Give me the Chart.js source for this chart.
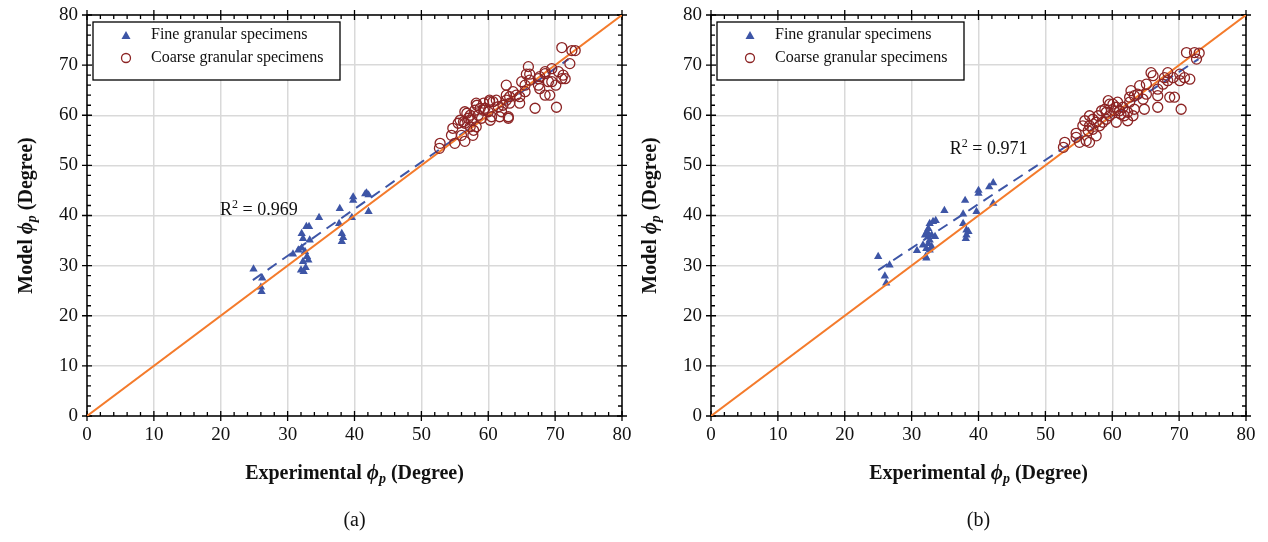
<!DOCTYPE html>
<html>
<head>
<meta charset="utf-8">
<script src="https://cdn.jsdelivr.net/npm/chart.js@4.4.1/dist/chart.umd.min.js"></script>
<style>
  body { margin: 0; background: #fff; }
  #wrap { position: relative; width: 1268px; height: 542px; overflow: hidden; }
  canvas { position: absolute; top: 0; }
</style>
</head>
<body>
<div id="wrap">
  <canvas id="chartA" width="634" height="542" style="left:0px"></canvas>
  <canvas id="chartB" width="634" height="542" style="left:624px"></canvas>
</div>
<script>
// axis ticks (both axes, both panels)
const axisTicks = [0, 10, 20, 30, 40, 50, 60, 70, 80];

// panel (a) - fine granular
const fineAx = [24.9, 26.2, 26.0, 26.1, 30.8, 32.0, 32.4, 32.7, 32.1, 32.3, 33.3, 32.8, 33.2, 31.6, 32.1, 32.6, 32.9, 33.1, 32.3, 34.7, 37.8, 37.7, 38.1, 38.3, 38.1, 39.8, 39.8, 39.6, 41.8, 42.1, 41.6, 42.1];
const fineAy = [29.3, 27.5, 25.7, 24.8, 32.3, 29.1, 28.8, 29.6, 36.4, 35.4, 35.1, 37.8, 37.8, 33.1, 33.5, 32.8, 31.8, 31.1, 30.8, 39.6, 41.4, 38.4, 36.4, 35.6, 34.8, 43.7, 43.0, 39.6, 44.5, 44.1, 44.3, 40.8];

// panel (a) - coarse granular
const coarseAx = [52.8, 52.7, 54.7, 54.5, 55.0, 56.0, 56.5, 56.5, 55.8, 56.3, 57.0, 57.5, 57.7, 57.8, 57.3, 58.2, 58.0, 58.8, 59.3, 59.5, 60.2, 60.7, 60.0, 60.3, 59.0, 58.5, 61.7, 62.0, 63.0, 62.2, 62.7, 63.2, 62.7, 63.7, 64.7, 64.7, 65.5, 65.5, 66.0, 65.7, 67.0, 66.2, 67.5, 67.5, 67.7, 68.5, 68.5, 69.2, 69.5, 69.5, 70.1, 70.2, 70.5, 71.0, 71.5, 71.0, 72.2, 72.5, 73.0, 71.2, 56.8, 57.3, 58.3, 59.3, 60.2, 61.2, 61.5, 62.7, 64.2, 65.0, 66.2, 67.7, 68.5, 69.0, 55.5, 56.5, 58.2, 60.5, 63.0, 63.2];
const coarseAy = [54.4, 53.4, 57.4, 56.0, 54.4, 56.0, 54.8, 60.7, 59.0, 58.7, 59.4, 59.0, 56.0, 57.0, 57.7, 62.4, 61.0, 61.4, 62.4, 61.4, 62.7, 62.7, 60.7, 59.0, 59.4, 60.0, 59.7, 60.7, 59.7, 62.0, 64.0, 62.4, 66.0, 64.7, 62.4, 63.7, 66.0, 64.7, 69.7, 68.2, 61.4, 68.2, 67.3, 66.0, 65.3, 68.3, 64.0, 64.0, 66.7, 69.3, 66.0, 61.6, 68.7, 67.3, 67.3, 73.5, 70.3, 72.9, 72.9, 68.0, 60.4, 60.0, 62.0, 61.0, 63.0, 63.0, 61.7, 63.0, 64.0, 66.7, 67.0, 67.7, 68.7, 66.7, 58.4, 58.4, 57.7, 59.7, 59.4, 63.7];

// panel (b) - fine granular
const fineBx = [25.0, 26.7, 26.0, 26.2, 30.8, 32.1, 32.2, 32.2, 32.7, 33.0, 31.7, 32.5, 32.0, 32.5, 33.0, 33.5, 32.7, 32.5, 32.7, 33.2, 33.6, 32.3, 34.9, 38.0, 37.7, 37.7, 38.2, 38.5, 38.2, 38.1, 39.7, 40.0, 40.0, 41.6, 42.2, 42.2];
const fineBy = [31.8, 30.1, 27.9, 26.5, 33.0, 31.8, 31.5, 33.4, 33.1, 33.8, 34.1, 34.4, 36.1, 35.8, 36.1, 35.8, 35.1, 37.4, 38.4, 38.8, 39.0, 36.8, 41.0, 43.0, 40.3, 38.4, 37.1, 36.8, 36.1, 35.4, 40.8, 45.0, 44.4, 45.7, 46.5, 42.4];

// panel (b) - coarse granular
const coarseBx = [52.9, 52.7, 54.6, 54.6, 55.1, 56.1, 56.6, 55.9, 55.6, 56.6, 56.6, 57.1, 57.6, 57.1, 58.1, 57.9, 58.4, 58.9, 59.6, 60.1, 60.8, 59.6, 59.1, 60.6, 61.3, 61.8, 62.3, 62.6, 62.6, 62.8, 63.3, 63.8, 63.3, 64.8, 64.6, 65.1, 65.1, 65.8, 66.1, 66.8, 66.8, 67.6, 68.3, 68.3, 68.6, 69.3, 69.1, 70.1, 70.1, 70.3, 70.8, 71.6, 71.1, 72.3, 73.0, 72.6, 67.8, 60.6, 59.1, 57.6, 59.4, 62.3, 63.1, 61.1, 56.4, 58.6, 61.6, 60.3, 64.1, 66.8];
const coarseBy = [54.6, 53.6, 55.6, 56.4, 54.6, 54.9, 54.6, 58.9, 57.9, 59.9, 57.9, 59.2, 55.9, 57.2, 57.9, 59.9, 60.9, 61.2, 62.2, 62.2, 62.6, 59.9, 59.2, 58.6, 60.2, 59.9, 60.6, 62.6, 63.6, 64.9, 63.9, 64.2, 61.2, 61.2, 63.2, 64.2, 66.2, 68.5, 67.9, 61.6, 65.2, 66.2, 68.5, 66.9, 63.6, 63.6, 67.5, 68.2, 66.9, 61.2, 67.5, 67.2, 72.5, 72.5, 72.4, 71.2, 67.5, 61.6, 60.6, 58.6, 62.9, 58.9, 59.9, 60.9, 56.9, 58.6, 61.6, 60.9, 65.9, 63.9];

// 1:1 line and fitted (dashed) lines, end points
const lineOneToOne = [{ x: 0, y: 0 }, { x: 80, y: 80 }];
const trendA = [{ x: 24.8, y: 27.1 }, { x: 72.0, y: 71.2 }];
const trendB = [{ x: 25.0, y: 29.1 }, { x: 72.9, y: 71.2 }];

const r2A = { text: '0.969', x: 19.9, y: 41.1 };
const r2B = { text: '0.971', x: 35.7, y: 53.3 };

const BLUE = '#3d55a6';
const BROWN = '#8c2424';
const ORANGE = '#f47b2c';
const SERIF = '"Liberation Serif", "Times New Roman", serif';

function zip(xs, ys) {
  return xs.map((x, i) => ({ x: x, y: ys[i] }));
}

// draw a run of text pieces with mixed styles, centred on (cx, cy)
function drawPieces(ctx, pieces, cx, cy) {
  let total = 0;
  pieces.forEach(p => { ctx.font = p.font; total += ctx.measureText(p.t).width; });
  let x = cx - total / 2;
  ctx.textBaseline = 'middle';
  ctx.textAlign = 'left';
  pieces.forEach(p => {
    ctx.font = p.font;
    ctx.fillText(p.t, x, cy + (p.dy || 0));
    x += ctx.measureText(p.t).width;
  });
}

function titlePieces(word) {
  return [
    { t: word + ' ', font: 'bold 20px ' + SERIF },
    { t: 'ϕ', font: 'italic bold 21px ' + SERIF },
    { t: 'p', font: 'italic bold 14px ' + SERIF, dy: 5 },
    { t: ' (Degree)', font: 'bold 20px ' + SERIF }
  ];
}

// scales reserve room for their end labels; drop it so layout padding rules
function fixScale(s, size) {
  if (s.isHorizontal()) s.height = size; else s.width = size;
  s.paddingTop = 0;
  s.paddingBottom = 0;
  s.paddingLeft = 0;
  s.paddingRight = 0;
}

const decorPlugin = {
  id: 'decor',
  beforeDatasetsDraw(chart) {
    const ctx = chart.ctx;
    const a = chart.chartArea;
    const xs = chart.scales.x, ys = chart.scales.y;
    ctx.save();
    ctx.strokeStyle = '#000';
    ctx.lineWidth = 1.3;
    ctx.beginPath();
    for (let v = 0; v <= 80; v += 2) {
      const major = v % 10 === 0;
      const px = xs.getPixelForValue(v);
      const py = ys.getPixelForValue(v);
      const inn = major ? 5 : 4;
      const out = major ? 5 : 0;
      // bottom + top
      ctx.moveTo(px, a.bottom + out); ctx.lineTo(px, a.bottom - inn);
      ctx.moveTo(px, a.top - out); ctx.lineTo(px, a.top + inn);
      // left + right
      ctx.moveTo(a.left - out, py); ctx.lineTo(a.left + inn, py);
      ctx.moveTo(a.right + out, py); ctx.lineTo(a.right - inn, py);
    }
    ctx.stroke();
    ctx.lineWidth = 1.5;
    ctx.strokeRect(a.left, a.top, a.right - a.left, a.bottom - a.top);
    ctx.restore();
  },
  afterDraw(chart, args, opts) {
    const ctx = chart.ctx;
    const a = chart.chartArea;
    const xs = chart.scales.x, ys = chart.scales.y;
    ctx.save();
    ctx.fillStyle = '#111';

    // axis titles
    drawPieces(ctx, titlePieces('Experimental'), (a.left + a.right) / 2, 474);
    ctx.save();
    ctx.translate(27, (a.top + a.bottom) / 2);
    ctx.rotate(-Math.PI / 2);
    drawPieces(ctx, titlePieces('Model'), 0, 0);
    ctx.restore();

    // caption
    ctx.font = '20px ' + SERIF;
    ctx.textAlign = 'center';
    ctx.textBaseline = 'middle';
    ctx.fillText(opts.caption, (a.left + a.right) / 2, 521);

    // R² label
    const r2 = opts.r2;
    let rx = xs.getPixelForValue(r2.x);
    const ry = ys.getPixelForValue(r2.y);
    ctx.textAlign = 'left';
    ctx.font = '18px ' + SERIF;
    ctx.fillText('R', rx, ry);
    rx += ctx.measureText('R').width;
    ctx.font = '12px ' + SERIF;
    ctx.fillText('2', rx, ry - 5);
    rx += ctx.measureText('2').width;
    ctx.font = '18px ' + SERIF;
    ctx.fillText(' = ' + r2.text, rx, ry);

    // legend box
    const lx = a.left + 6, ly = a.top + 7, lw = 247, lh = 58;
    ctx.fillStyle = '#fff';
    ctx.fillRect(lx, ly, lw, lh);
    ctx.strokeStyle = '#000';
    ctx.lineWidth = 1.3;
    ctx.strokeRect(lx, ly, lw, lh);
    const mx = lx + 33;
    // triangle
    ctx.fillStyle = BLUE;
    ctx.beginPath();
    ctx.moveTo(mx, ly + 13.5 - 4.5);
    ctx.lineTo(mx + 4.5, ly + 13.5 + 3.5);
    ctx.lineTo(mx - 4.5, ly + 13.5 + 3.5);
    ctx.closePath();
    ctx.fill();
    // circle
    ctx.strokeStyle = BROWN;
    ctx.lineWidth = 1.3;
    ctx.beginPath();
    ctx.arc(mx, ly + 36, 4.5, 0, Math.PI * 2);
    ctx.stroke();
    ctx.fillStyle = '#111';
    ctx.font = '16px ' + SERIF;
    ctx.textBaseline = 'middle';
    ctx.fillText('Fine granular specimens', lx + 58, ly + 13);
    ctx.fillText('Coarse granular specimens', lx + 58, ly + 36);
    ctx.restore();
  }
};

function makeChart(id, fine, coarse, trend, r2, caption) {
  const axis = {
    type: 'linear',
    min: 0,
    max: 80,
    afterBuildTicks: s => { s.ticks = axisTicks.map(v => ({ value: v })); },
    grid: { color: '#d9d9d9', lineWidth: 1.5, drawTicks: false },
    border: { display: false },
    ticks: { color: '#111', font: { family: SERIF, size: 19 } }
  };
  return new Chart(document.getElementById(id), {
    type: 'scatter',
    data: {
      datasets: [
        {
          label: 'Coarse granular specimens',
          data: coarse,
          pointStyle: 'circle',
          pointRadius: 5,
          pointHoverRadius: 5,
          backgroundColor: 'rgba(0,0,0,0)',
          borderColor: BROWN,
          borderWidth: 1.3,
          order: 0
        },
        {
          type: 'line',
          label: '1:1',
          data: lineOneToOne,
          borderColor: ORANGE,
          borderWidth: 2,
          pointRadius: 0,
          pointHoverRadius: 0,
          fill: false,
          order: 1
        },
        {
          label: 'Fine granular specimens',
          data: fine,
          pointStyle: 'triangle',
          pointRadius: 4.8,
          pointHoverRadius: 4.8,
          backgroundColor: BLUE,
          borderColor: BLUE,
          borderWidth: 0,
          order: 2
        },
        {
          type: 'line',
          label: 'Trend',
          data: trend,
          borderColor: BLUE,
          borderWidth: 2,
          borderDash: [11, 7],
          pointRadius: 0,
          pointHoverRadius: 0,
          fill: false,
          order: 3
        }
      ]
    },
    options: {
      responsive: false,
      animation: false,
      layout: { autoPadding: false, padding: { top: 15, right: 12, left: 0, bottom: 0 } },
      scales: {
        x: Object.assign({}, axis, {
          ticks: Object.assign({}, axis.ticks, { padding: 8, maxRotation: 0 }),
          afterFit: s => fixScale(s, 126)
        }),
        y: Object.assign({}, axis, {
          ticks: Object.assign({}, axis.ticks, { padding: 9 }),
          afterFit: s => fixScale(s, 87)
        })
      },
      plugins: {
        legend: { display: false },
        tooltip: { enabled: false },
        decor: { r2: r2, caption: caption }
      }
    },
    plugins: [decorPlugin]
  });
}

makeChart('chartA', zip(fineAx, fineAy), zip(coarseAx, coarseAy), trendA, r2A, '(a)');
makeChart('chartB', zip(fineBx, fineBy), zip(coarseBx, coarseBy), trendB, r2B, '(b)');
</script>
</body>
</html>
